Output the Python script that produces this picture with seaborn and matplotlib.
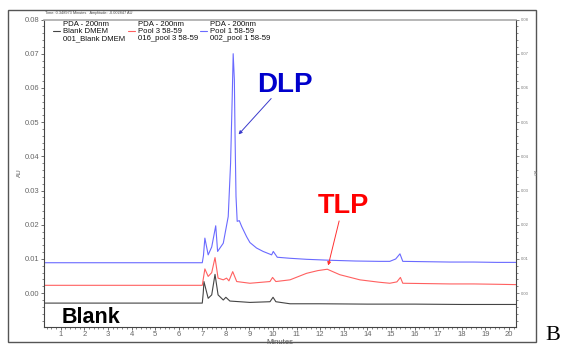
import matplotlib
matplotlib.use("Agg")
import matplotlib.pyplot as plt
import seaborn as sns
import pandas as pd
from matplotlib.ticker import MultipleLocator
from matplotlib.patches import Rectangle

sns.set_theme(style="white")
plt.rcParams["font.family"] = ["Liberation Sans", "DejaVu Sans"]

t_blue = [0.3, 7.0, 7.05, 7.11, 7.25, 7.4, 7.57, 7.65, 7.89, 8.1, 8.2, 8.27, 8.31, 8.36, 8.39,
          8.43, 8.48, 8.57, 8.67, 8.88, 9.02, 9.3, 9.58, 9.94, 10.01, 10.18, 10.72, 11.42,
          12.5, 13.5, 14.5, 14.95, 15.2, 15.38, 15.5, 16.5, 17.5, 18.5, 19.5, 20.3]
au_blue = [0.0089, 0.0089, 0.0110, 0.0161, 0.0112, 0.0135, 0.0197, 0.0122, 0.0146, 0.0224, 0.0380,
           0.0575, 0.0700, 0.0624, 0.0458, 0.0283, 0.0210, 0.0212, 0.0195, 0.0165, 0.0148,
           0.0132, 0.0122, 0.0112, 0.0122, 0.0105, 0.0102, 0.0099, 0.0096, 0.0094, 0.0093,
           0.0093, 0.0100, 0.0115, 0.0093, 0.0092, 0.0091, 0.0091, 0.0090, 0.0090]

t_red = [0.3, 7.0, 7.05, 7.11, 7.25, 7.4, 7.54, 7.67, 7.89, 8.03, 8.13, 8.29, 8.46, 9.02, 9.87,
         9.98, 10.12, 10.72, 11.42, 11.9, 12.3, 12.83, 13.68, 14.5, 14.95, 15.25, 15.4, 15.5,
         16.5, 17.5, 18.5, 19.5, 20.3]
au_red = [0.0023, 0.0023, 0.0045, 0.0071, 0.0049, 0.0060, 0.0104, 0.0044, 0.0039, 0.0044, 0.0036,
          0.0063, 0.0034, 0.0029, 0.0034, 0.0046, 0.0034, 0.0039, 0.0058, 0.0066, 0.0070,
          0.0054, 0.0039, 0.0032, 0.0029, 0.0033, 0.0046, 0.0029, 0.0028, 0.0027, 0.0027,
          0.0026, 0.0025]

t_black = [0.3, 7.0, 7.04, 7.07, 7.25, 7.4, 7.54, 7.67, 7.89, 8.0, 8.17, 9.02, 9.87, 10.0,
           10.12, 10.72, 12.0, 14.0, 16.0, 18.0, 20.3]
au_black = [-0.0029, -0.0029, 0.0000, 0.0034, -0.0015, -0.0005, 0.0055, -0.0005, -0.0020,
            -0.0012, -0.0023, -0.0027, -0.0025, -0.0012, -0.0025, -0.0031, -0.0031, -0.0032,
            -0.0032, -0.0033, -0.0033]

df = pd.concat([
    pd.DataFrame({"Minutes": t_black, "AU": au_black, "serie": "Blank DMEM"}),
    pd.DataFrame({"Minutes": t_red, "AU": au_red, "serie": "Pool 3 58-59"}),
    pd.DataFrame({"Minutes": t_blue, "AU": au_blue, "serie": "Pool 1 58-59"}),
])
colores = {"Blank DMEM": "#444444", "Pool 3 58-59": "#ff6060", "Pool 1 58-59": "#6a6aff"}

fig = plt.figure(figsize=(5.66, 3.47), dpi=100)
ax = fig.add_axes([44 / 566, 1 - 326.7 / 347, (516 - 44) / 566, (326.7 - 19.5) / 347])

sns.lineplot(data=df, x="Minutes", y="AU", hue="serie", palette=colores, sort=False,
             linewidth=0.8, legend=False, ax=ax)

ax.set_xlim(0.29, 20.3)
ax.set_ylim(-0.0098, 0.08)
ax.xaxis.set_major_locator(MultipleLocator(1))
ax.xaxis.set_minor_locator(MultipleLocator(0.2))
ax.yaxis.set_major_locator(MultipleLocator(0.01))
ax.yaxis.set_minor_locator(MultipleLocator(0.002))
ax.yaxis.set_major_formatter(plt.FuncFormatter(lambda v, p: f"{v:.2f}"))
ax.tick_params(axis="both", which="major", labelsize=5.5, labelcolor="#666666",
               length=2.2, width=0.6, color="#555555", pad=1)
ax.tick_params(axis="both", which="minor", length=1.3, width=0.5, color="#555555")
ax.tick_params(left=True, bottom=True, which="both")
ax.set_xlabel("")
ax.set_ylabel("")
for s in ["left", "bottom", "right"]:
    ax.spines[s].set_color("#444444")
    ax.spines[s].set_linewidth(0.8)
ax.spines["top"].set_color("#aaaaaa")
ax.spines["top"].set_linewidth(1.2)

# eje derecho con etiquetas diminutas
ax2 = ax.twinx()
ax2.set_ylim(ax.get_ylim())
ax2.yaxis.set_major_locator(MultipleLocator(0.01))
ax2.yaxis.set_minor_locator(MultipleLocator(0.002))
ax2.yaxis.set_major_formatter(plt.FuncFormatter(lambda v, p: f"{v:.2f}"))
ax2.tick_params(axis="y", which="major", labelsize=3, labelcolor="#777777",
                length=2.2, width=0.5, color="#555555", pad=1)
ax2.tick_params(axis="y", which="minor", length=1.3, width=0.5, color="#555555")
ax2.tick_params(right=True, which="both")
ax2.grid(False)
for s in ax2.spines.values():
    s.set_visible(False)

fig.text(280 / 566, 1 - 342.5 / 347, "Minutes", fontsize=5.5, color="#555555", ha="center", va="center")
fig.text(19 / 566, 1 - 173 / 347, "AU", fontsize=4.5, color="#555555", rotation=90, ha="center", va="center")
fig.text(534 / 566, 1 - 173 / 347, "AU", fontsize=3, color="#777777", rotation=270, ha="center", va="center")
fig.text(45 / 566, 1 - 13 / 347, "Time: 0.348973 Minutes   Amplitude: -0.002847 AU",
         fontsize=2.8, color="#444444", ha="left", va="center")

# leyenda en tres columnas
columnas = [(53, "Blank DMEM", "001_Blank DMEM"), (128, "Pool 3 58-59", "016_pool 3 58-59"),
            (200, "Pool 1 58-59", "002_pool 1 58-59")]
for x0, nombre, archivo in columnas:
    fig.text((x0 + 10) / 566, 1 - 24 / 347, "PDA - 200nm", fontsize=5.6, color="#111111", va="center")
    fig.text((x0 + 10) / 566, 1 - 31.3 / 347, nombre, fontsize=5.6, color="#111111", va="center")
    fig.text((x0 + 10) / 566, 1 - 38.7 / 347, archivo, fontsize=5.6, color="#111111", va="center")
    fig.add_artist(plt.Line2D([x0 / 566, (x0 + 7) / 566], [1 - 31.3 / 347] * 2,
                              color=colores[nombre], lw=0.8))

# anotaciones
ax.text(9.32, 0.0589, "DLP", fontsize=20, fontweight="bold", color="#0000cc", ha="left", va="baseline")
ax.annotate("", xy=(8.46, 0.0458), xytext=(10.0, 0.0575),
            arrowprops=dict(arrowstyle="-|>", color="#3a3acc", lw=0.7, mutation_scale=5))
ax.text(11.9, 0.0235, "TLP", fontsize=19.5, fontweight="bold", color="#ff0000", ha="left", va="baseline")
ax.annotate("", xy=(12.31, 0.0073), xytext=(12.83, 0.0219),
            arrowprops=dict(arrowstyle="-|>", color="#ff3030", lw=0.7, mutation_scale=5))
ax.text(1.04, -0.0086, "Blank", fontsize=15.5, fontweight="bold", color="black", ha="left", va="baseline")

# marco exterior y letra B
fig.add_artist(Rectangle((8 / 566, 1 - 342 / 347), (536 - 8) / 566, (342 - 10) / 347,
                         transform=fig.transFigure, fill=False, edgecolor="#555555", lw=1))
fig.text(545 / 566, 1 - 339.5 / 347, "B", fontsize=16, family=["Liberation Serif", "DejaVu Serif"],
         color="black", ha="left", va="baseline")

fig.savefig("out.png", dpi=100)
